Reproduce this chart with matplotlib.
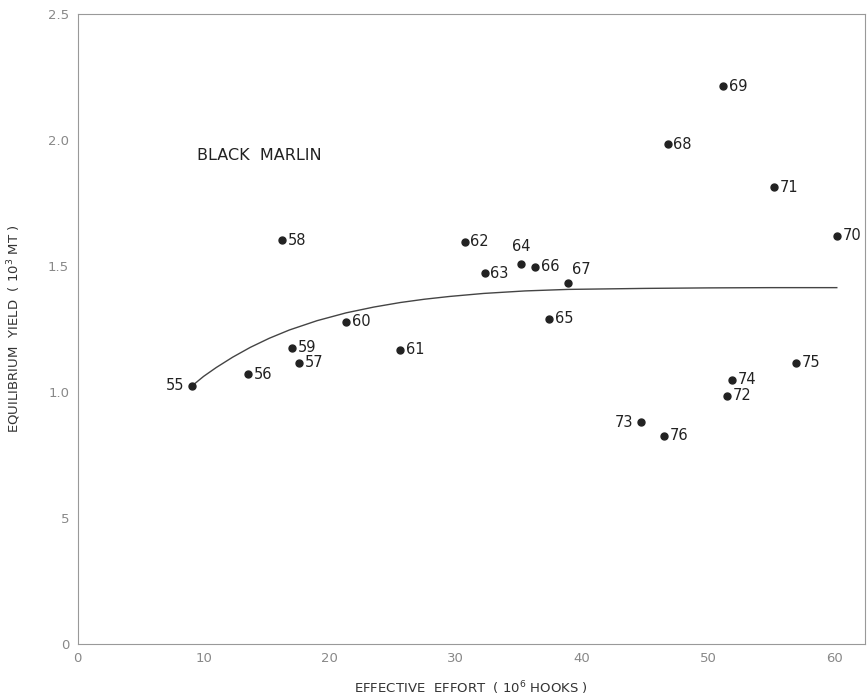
import numpy as np
import matplotlib.pyplot as plt

# yearly points (19xx), effort in 10^6 hooks, yield in 10^3 MT
years = ['55', '56', '57', '58', '59', '60', '61', '62', '63', '64', '65',
         '66', '67', '68', '69', '70', '71', '72', '73', '74', '75', '76']
effort = [9.1, 13.5, 17.6, 16.2, 17.0, 21.3, 25.6, 30.7, 32.3, 35.2, 37.4,
          36.3, 38.9, 46.8, 51.2, 60.2, 55.2, 51.5, 44.7, 51.9, 57.0, 46.5]
catch = [1.025, 1.07, 1.116, 1.603, 1.176, 1.279, 1.167, 1.596, 1.471, 1.508, 1.29,
         1.497, 1.434, 1.983, 2.214, 1.62, 1.813, 0.985, 0.88, 1.048, 1.116, 0.827]

# equilibrium curve
curve_x = [9.1, 10.0, 11.0, 12.3, 13.7, 15.2, 16.8, 19.0, 21.3, 23.5, 25.6,
           27.5, 29.5, 32.2, 35.5, 38.9, 45.0, 50.0, 55.0, 60.2]
curve_y = [1.025, 1.062, 1.097, 1.138, 1.177, 1.213, 1.246, 1.283, 1.314, 1.337, 1.355,
           1.368, 1.379, 1.391, 1.401, 1.407, 1.411, 1.413, 1.414, 1.414]

# label placement (offset in points)
left = {'55': (-6, 0), '73': (-6, 0)}
special = {'64': (0, 7), '67': (3, 4)}

fig = plt.figure(figsize=(8.68, 6.98), dpi=100)
ax = fig.add_axes([0.0893, 0.0774, 0.9067, 0.9026])

ax.plot(curve_x, curve_y, color='#444444', linewidth=1.0)
ax.plot(effort, catch, 'o', color='#222222', markersize=5)

for yr, x, y in zip(years, effort, catch):
    if yr in left:
        ax.annotate(yr, (x, y), xytext=left[yr], textcoords='offset points',
                    ha='right', va='center', fontsize=10.5, color='#222222')
    elif yr in special:
        ha = 'center' if yr == '64' else 'left'
        ax.annotate(yr, (x, y), xytext=special[yr], textcoords='offset points',
                    ha=ha, va='bottom', fontsize=10.5, color='#222222')
    else:
        ax.annotate(yr, (x, y), xytext=(4, 0), textcoords='offset points',
                    ha='left', va='center', fontsize=10.5, color='#222222')

ax.text(9.5, 1.94, 'BLACK  MARLIN', fontsize=11.5, color='#222222', va='center')

ax.set_xlim(0, 62.4)
ax.set_ylim(0, 2.5)
ax.set_xticks([0, 10, 20, 30, 40, 50, 60])
ax.set_yticks([0, 0.5, 1.0, 1.5, 2.0, 2.5])
ax.set_yticklabels(['0', '5', '1.0', '1.5', '2.0', '2.5'])
ax.tick_params(length=0, labelsize=9.5, labelcolor='#888888', pad=6)

for s in ax.spines.values():
    s.set_color('#999999')
    s.set_linewidth(0.8)

ax.set_xlabel('EFFECTIVE  EFFORT  ( 10$^6$ HOOKS )', fontsize=9.5, color='#333333', labelpad=10)
ax.set_ylabel('EQUILIBRIUM  YIELD  ( 10$^3$ MT )', fontsize=9.5, color='#333333', labelpad=18)

fig.savefig('out.png', dpi=100)
